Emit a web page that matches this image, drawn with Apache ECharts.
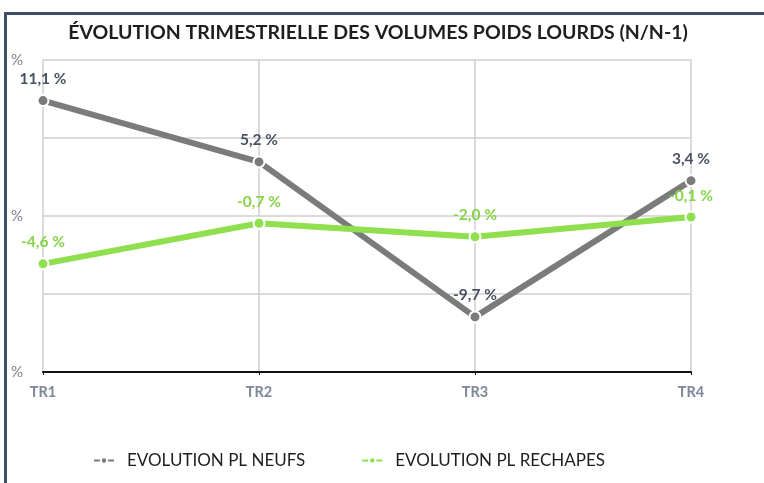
<!DOCTYPE html>
<html>
<head>
<meta charset="utf-8">
<script src="https://cdn.jsdelivr.net/npm/echarts@6/dist/echarts.min.js"></script>
<style>
  html, body { margin: 0; padding: 0; background: #fff; }
  #chart { position: absolute; left: 0; top: 0; width: 764px; height: 483px; }
  #frame { position: absolute; left: 4px; top: 12px; right: 0; bottom: 0;
           border-left: 3px solid #3f4f66; border-top: 3px solid #3f4f66; pointer-events: none; }
</style>
</head>
<body>
<div id="chart"></div>
<div id="frame"></div>
<script>
// trimestres
var categories = ['TR1', 'TR2', 'TR3', 'TR4'];
var seriesNames = ['EVOLUTION PL NEUFS', 'EVOLUTION PL RECHAPES'];
// evolution N/N-1 en %
var plNeufs = [11.1, 5.2, -9.7, 3.4];
var plRechapes = [-4.6, -0.7, -2.0, -0.1];
var yLabelTicks = [15, 0, -15];

function pct(p) {
	return p.value.toFixed(1).replace('.', ',') + ' %';
}

var chart = echarts.init(document.getElementById('chart'));
var option = {
	animation: false,
	title: {
		text: 'ÉVOLUTION TRIMESTRIELLE DES VOLUMES POIDS LOURDS (N/N-1)',
		left: 373,
		textAlign: 'center',
		top: 18,
		textStyle: { fontFamily: 'Lato', fontWeight: 'bold', fontSize: 19.5, color: '#1e1e1e' }
	},
	grid: { left: 43, right: 73, top: 60, bottom: 111 },
	legend: {
		data: seriesNames,
		left: 88,
		top: 447,
		itemWidth: 20,
		itemHeight: 8,
		itemGap: 56,
		lineStyle: { width: 2 },
		textStyle: { fontFamily: 'Lato', fontSize: 17, color: '#1e1e1e', padding: [0, 0, 0, 8] }
	},
	xAxis: {
		type: 'category',
		data: categories,
		boundaryGap: false,
		axisLine: { onZero: false, lineStyle: { color: '#111', width: 2 } },
		axisTick: { show: true, length: 3, lineStyle: { color: '#111' } },
		splitLine: { show: true, lineStyle: { color: '#cfcfcf', width: 1.5 } },
		axisLabel: { margin: 13, fontFamily: 'Lato', fontWeight: 'bold', fontSize: 14.5, color: '#7d8797' }
	},
	yAxis: {
		type: 'value',
		min: -15,
		max: 15,
		interval: 7.5,
		axisLine: { show: false },
		axisTick: { show: false },
		splitLine: { lineStyle: { color: '#cfcfcf', width: 1.5 } },
		axisLabel: {
			margin: 20,
			fontFamily: 'Lato',
			fontSize: 15,
			color: '#7f8096',
			formatter: function (v) { return yLabelTicks.indexOf(v) >= 0 ? '%' : ''; }
		}
	},
	series: [
		{
			name: seriesNames[0],
			type: 'line',
			data: plNeufs,
			symbol: 'circle',
			symbolSize: 11,
			lineStyle: { color: '#7b7b7b', width: 6 },
			itemStyle: { color: '#7b7b7b', borderColor: '#fff', borderWidth: 2 },
			label: { show: true, position: 'top', distance: 7, formatter: pct,
				fontFamily: 'Lato', fontWeight: 'bold', fontSize: 15.5, color: '#4a5262' }
		},
		{
			name: seriesNames[1],
			type: 'line',
			data: plRechapes,
			symbol: 'circle',
			symbolSize: 11,
			lineStyle: { color: '#8fdf4f', width: 6 },
			itemStyle: { color: '#8fdf4f', borderColor: '#fff', borderWidth: 2 },
			label: { show: true, position: 'top', distance: 7, formatter: pct,
				fontFamily: 'Lato', fontWeight: 'bold', fontSize: 15.5, color: '#86d446' }
		}
	]
};
chart.setOption(option, true);
window.addEventListener('resize', chart.resize);
</script>
</body>
</html>
